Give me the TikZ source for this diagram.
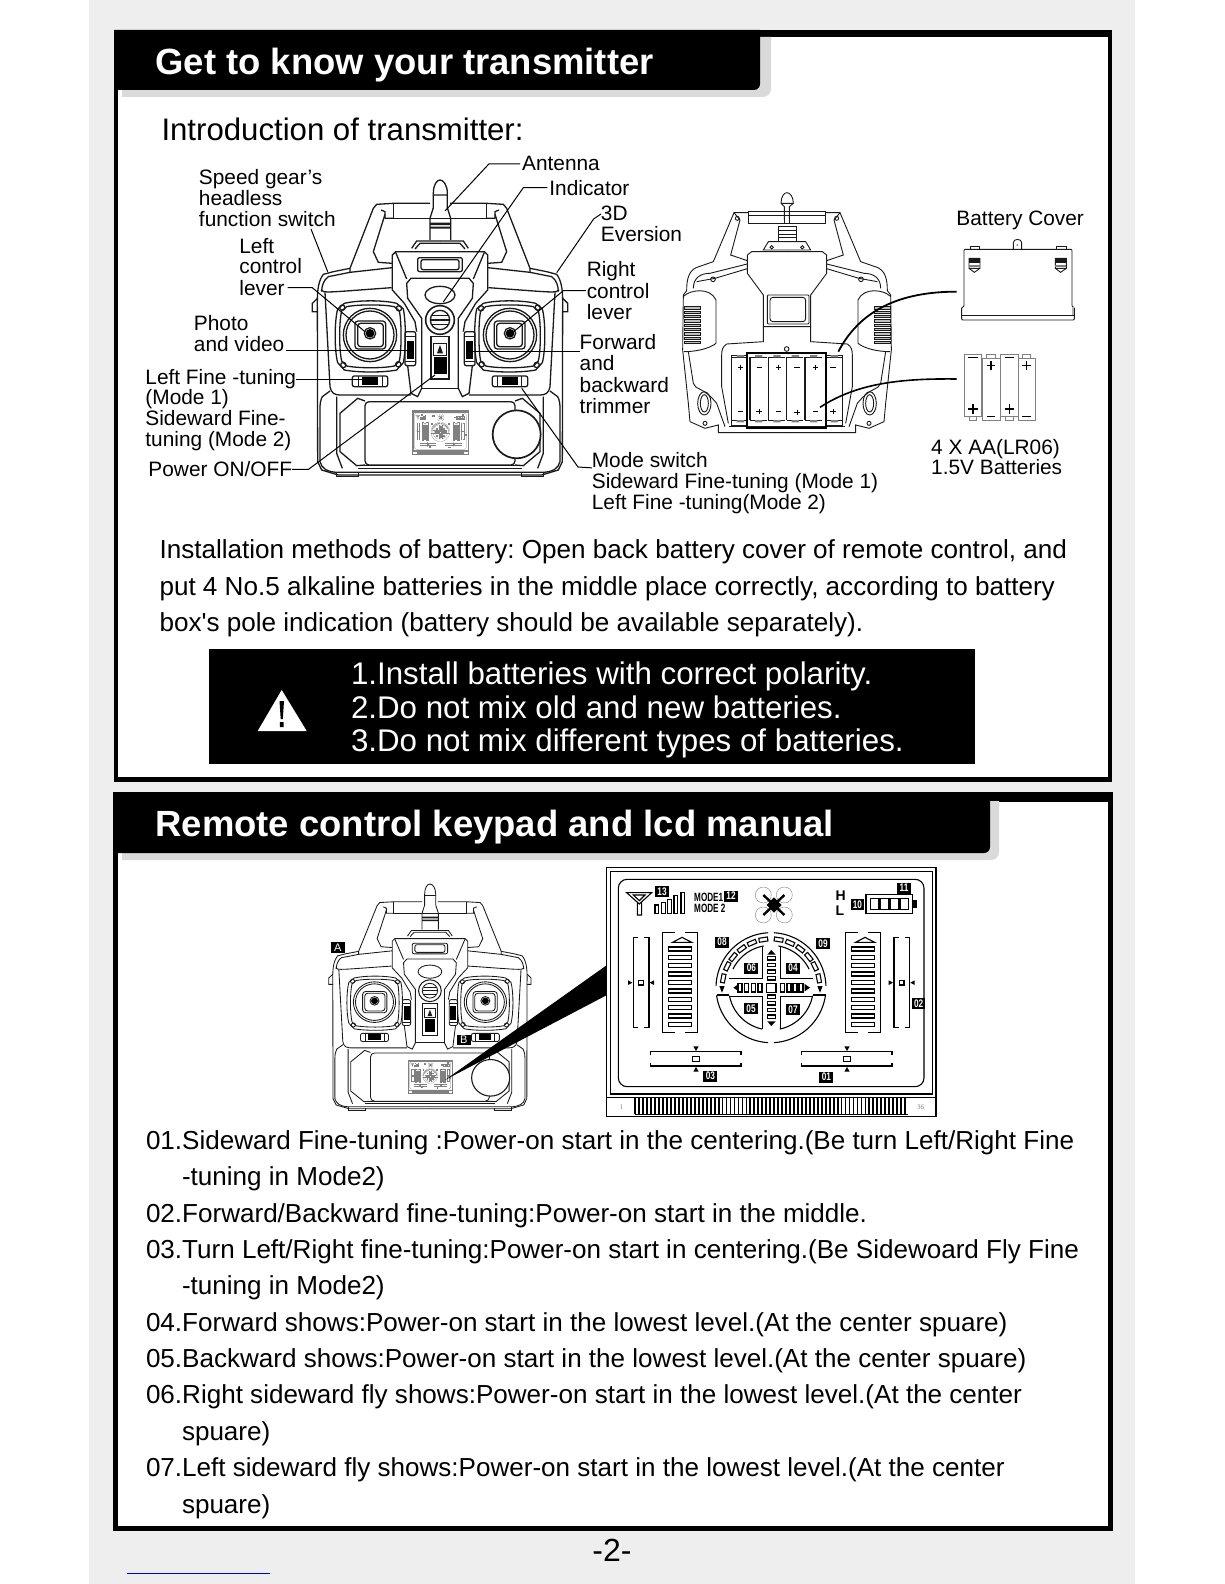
\documentclass[tikz,border=0pt]{standalone}
\usepackage{graphicx}
\usepackage{fontspec}
\setmainfont{Liberation Sans}
\newfontfamily\serifnum{Liberation Serif}
\frenchspacing
\definecolor{stripgray}{HTML}{EEEEEE}
\definecolor{shadowgray}{HTML}{DADADA}
\definecolor{inkgray}{HTML}{1A1A1A}
\definecolor{linkblue}{HTML}{0000D0}
\newcommand\fsz[1]{\fontsize{#1}{#1}\selectfont}
\tikzset{
  base/.style={inner sep=0pt,outer sep=0pt,anchor=base west,text=black},
  lbl/.style={base,font=\fsz{20.85}},
  body/.style={base,font=\fsz{26.05}},
  warn/.style={base,text=white,font=\fsz{31.3}},
  headtxt/.style={base,text=white,font=\bfseries\fsz{36.45}},
  leader/.style={draw=black,line width=1pt},
  tx/.style={draw=inkgray,line width=\txlw pt,fill=none},
  lcdtxt/.style={inner sep=0pt,outer sep=0pt,text=white,font=\bfseries\fsz{11}},
}
\def\txlw{1.3}
\newcommand\arcp[5]{plot[smooth,domain=#4:#5,samples=24] ({#1+#2*cos(\x)},{#3+#2*sin(\x)})}
\newcommand\lcdshapes[2]{%
 \def\la{#1}\def\lb{#2}%
 \draw[line width=\lb pt] (20,22) rectangle (1008,770);
 \draw[line width=\lb pt] (32,35) rectangle (998,702);
 \draw[line width=\la pt] (20,712) -- (1008,712);
 \foreach \i in {0,...,68} {\draw[line width=\lb*1.6 pt] ({106+\i*11.9},714) -- ({106+\i*11.9},762);}
 \draw[line width=\la pt] (105,763) -- (925,763);
 \draw[line width=\lb pt,rounded corners=\lb*8 pt] (55,58) rectangle (972,680);
 % antenna
 \draw[line width=\lb pt] (80,98) -- (155,98) -- (118,132) -- cycle (100,105) -- (135,105) -- (118,122) -- cycle (112,128) -- (112,165) -- (125,165) -- (125,128);
 \foreach \a/\b/\c in {165/175/135,185/197/127,203/215/118,222/233/107,243/253/98} {\draw[line width=\lb pt] (\a,\c) rectangle (\b,160);}
 % tags
 \foreach \a/\b in {165/78,372/92,892/68,752/118,345/230,648/235,433/308,558/308,432/430,558/432,935/415,310/632,658/635} {\fill (\a,\b) rectangle ++(41,33);}
 % batt
 \draw[line width=\lb pt] (798,103) rectangle (938,160);
 \foreach \a in {812,842,872,900} {\draw[line width=\lb pt] (\a,115) rectangle ++(25,33);}
 \fill (938,120) rectangle (952,145);
 % drone
 \foreach \a/\b in {490/105,553/105,490/165,553/165} {\draw[line width=\la*.8 pt,draw=gray] (\a,\b) circle[radius=24]; \draw[line width=\lb*2.2 pt] (522,135) -- (\a,\b);}
 \fill (500,135) -- (522,112) -- (545,135) -- (522,158) -- cycle;
 % side brackets
 \foreach \s/\t in {0/0,782/549} {\begin{scope}[shift={(\s,0)}]
  \draw[line width=\lb pt] (115,232) -- (100,232) -- (100,503) -- (115,503) (133,232) -- (147,232) -- (147,503) -- (133,503);
  \draw[line width=\lb pt] (116,361) rectangle (130,375);
  \fill (84,361) -- (84,375) -- (97,368) -- cycle (162,361) -- (162,375) -- (149,368) -- cycle;
 \end{scope}
 \begin{scope}[shift={(\t,0)}]
  \draw[line width=\lb pt] (225,218) -- (188,218) -- (188,517) -- (225,517) (255,218) -- (292,218) -- (292,517) -- (255,517);
  \draw[line width=\lb pt] (218,247) -- (246,232) -- (275,247) -- cycle;
  \foreach \y in {267,292,317,342,367,393,418,443,468,493} {\draw[line width=\lb pt] (205,\y-6) rectangle (275,\y+6);}
 \end{scope}}
 % centre dial
 \draw[line width=\lb pt] \arcp{513}{165}{383}{-178}{-93} ;
 \draw[line width=\lb pt] \arcp{513}{165}{383}{-87}{-2} ;
 \draw[line width=\lb pt] \arcp{513}{165}{383}{8}{87} ;
 \draw[line width=\lb pt] \arcp{513}{165}{383}{93}{172} ;
 \draw[line width=\lb pt] (350,405) -- (388,405) (678,405) -- (640,405);
 \draw[line width=\lb pt] \arcp{513}{127}{383}{-154}{-100} ;
 \draw[line width=\lb pt] \arcp{513}{127}{383}{-80}{-26} ;
 \draw[line width=\lb pt] \arcp{513}{127}{383}{11}{78} ;
 \draw[line width=\lb pt] \arcp{513}{127}{383}{102}{169} ;
 \draw[line width=\lb pt] (487,262) -- (487,355) -- (388,355) (541,262) -- (541,355) -- (640,355) (487,508) -- (487,410) -- (388,410) (541,508) -- (541,410) -- (640,410);
 \foreach \a in {99,113,127,141,154,169} {
  \draw[line width=\lb pt,rotate around={\a-90:({513+146*cos(\a)},{383-146*sin(\a)})}] ({513+146*cos(\a)-13},{383-146*sin(\a)-6}) rectangle ++(26,12);
  \draw[line width=\lb pt,rotate around={90-\a:({513-146*cos(\a)},{383-146*sin(\a)})}] ({513-146*cos(\a)-13},{383-146*sin(\a)-6}) rectangle ++(26,12);
 }
 \fill (358,378) -- (374,378) -- (366,398) -- cycle (652,378) -- (668,378) -- (660,398) -- cycle;
 \draw[line width=\lb pt] (500,370) rectangle (528,397);
 \foreach \a in {420,440,460,480,548,567,585,603} {\draw[line width=\lb pt] (\a-6,371) rectangle (\a+6,396);}
 \fill (416,372) -- (416,394) -- (400,383) -- cycle (614,372) -- (614,394) -- (630,383) -- cycle;
 \foreach \a in {295,315,335,355,410,430,450,470} {\draw[line width=\lb pt] (502,\a-5) rectangle (527,\a+5);}
 \fill (502,284) -- (527,284) -- (514,270) -- cycle (502,484) -- (527,484) -- (514,498) -- cycle;
 % bottom trims
 \foreach \s in {0,453} {\begin{scope}[shift={(\s,0)}]
  \draw[line width=\lb pt] (152,586) -- (152,575) -- (423,575) -- (423,586) (152,608) -- (152,618) -- (423,618) -- (423,608);
  \draw[line width=\lb pt] (278,590) rectangle (298,604);
  \fill (280,559) -- (296,559) -- (288,573) -- cycle (280,635) -- (296,635) -- (288,621) -- cycle;
 \end{scope}}
}
% front transmitter, left half, in 3x crop coordinates, axis at X=405
\newcommand\txhalf{%
 % handle
 \draw[tx] (375,85) -- (265,85) -- (215,88) -- (205,100) -- (135,280) -- (85,290) -- (55,298) .. controls (42,315) and (37,340) .. (37,378) -- (38,860) -- (50,885) -- (100,900) -- (405,900);
 \draw[tx] (265,85) -- (265,130) -- (375,130);
 \draw[tx] (265,130) -- (240,130) -- (240,110) -- (228,105);
 \draw[tx] (240,118) -- (205,230) -- (220,262) -- (262,265);
 \draw[tx] (135,280) -- (135,292) -- (262,278);
 \draw[tx] (135,292) -- (70,305) .. controls (55,315) and (50,335) .. (50,350);
 \draw[tx] (37,370) -- (22,385) -- (22,410) -- (38,410);
 % face contour
 \draw[tx] (48,345) .. controls (55,355) and (65,352) .. (260,338);
 \draw[tx] (60,352) -- (75,635) .. controls (78,655) and (90,660) .. (105,660) -- (318,660);
 % lower
 \draw[tx] (75,648) -- (52,665) .. controls (46,675) and (45,690) .. (45,700) -- (45,860) .. controls (50,880) and (65,890) .. (95,892) -- (405,892);
 \draw[tx] (95,665) -- (95,835) -- (112,880);
 \draw[tx] (180,678) -- (158,670) -- (105,715) -- (105,830) -- (155,872) -- (180,870);
 \draw[tx] (155,872) -- (405,872) (160,880) -- (405,880);
 \draw[tx] (95,892) -- (95,905) -- (160,905) -- (160,895);
 % central
 \draw[tx] (320,220) -- (335,198) -- (405,198) (330,222) -- (345,205) -- (405,205);
 \draw[tx] (405,230) -- (272,230) -- (262,240) -- (262,345) -- (298,385) -- (330,440) -- (335,470);
 \draw[tx] (272,232) -- (305,312);
 \draw[tx] (405,310) -- (318,310) -- (305,325) -- (308,370) -- (350,430) -- (350,640) -- (338,665) -- (318,655) -- (308,572);
 \draw[tx] (350,640) -- (405,640);
 % gimbal
 \draw[tx] (118,385) .. controls (160,375) and (235,375) .. (275,385) -- (295,402) .. controls (303,440) and (303,525) .. (295,563) -- (275,585) .. controls (235,593) and (160,593) .. (118,585) -- (98,563) .. controls (88,525) and (88,440) .. (98,402) -- cycle;
 \draw[tx] (125,395) .. controls (160,388) and (235,388) .. (268,395) -- (283,408) .. controls (290,440) and (290,525) .. (283,558) -- (268,573) .. controls (235,580) and (160,580) .. (125,573) -- (110,558) .. controls (102,525) and (102,440) .. (110,408) -- cycle;
 \draw[tx] (195,480) circle[radius=80] (195,480) circle[radius=72];
 \fill[white] (152,440) rectangle (240,520);
 \draw[tx,rounded corners=3pt] (150,438) rectangle (242,522);
 \draw[tx,rounded corners=3pt] (158,445) rectangle (235,515);
 \fill[black] (195,475) circle[radius=13];
 \draw[tx] (195,475) circle[radius=17];
 \foreach \a/\b in {112/398,282/400,115/570,280/568} {\draw[tx] (\a,\b) circle[radius=8];}
 % trims
 \draw[tx,rounded corners=2pt] (300,470) rectangle (332,572);
 \fill[black] (307,497) rectangle (328,552);
 \draw[tx] (300,485) -- (332,485) (300,560) -- (332,560);
 \draw[tx,rounded corners=2pt] (142,603) rectangle (248,635);
 \fill[black] (172,607) rectangle (218,630);
 \draw[tx] (160,603) -- (160,635) (232,603) -- (232,635);
}
\newcommand\txfront{%
 \draw[tx] (385,98) -- (385,55) .. controls (385,30) and (395,15) .. (405,15) .. controls (415,15) and (427,30) .. (427,55) -- (427,98) -- (437,130) -- (437,195) (385,98) -- (375,130) -- (375,195) (385,60) -- (427,60);
 \fill[inkgray] (375,143) rectangle (437,150) (375,155) rectangle (437,161);
 \draw[tx] (375,130) -- (437,130);
 \txhalf
 \begin{scope}[shift={(810,0)},xscale=-1]\txhalf\end{scope}
 \draw[tx,rounded corners=2pt] (338,248) rectangle (472,290) (348,254) rectangle (462,284);
 \draw[tx] (405,360) circle[x radius=45,y radius=26];
 \draw[tx,line width=\txlw*1.2 pt] (405,435) circle[radius=43];
 \draw[tx] (405,435) circle[radius=29];
 \draw[tx] (382,422) -- (428,422) (379,435) -- (431,435) (382,448) -- (428,448);
 \draw[tx] (378,485) rectangle (432,612);
 \draw[tx] (385,505) rectangle (425,542);
 \fill[inkgray] (405,510) -- (414,535) -- (396,535) -- cycle;
 \fill[black] (386,545) rectangle (426,597);
 \draw[tx,rounded corners=4pt] (180,680) rectangle (630,870);
 \fill[white] (322,708) rectangle (490,838);
 \draw[tx,draw=gray] (322,708) rectangle (490,838);
 \begin{scope}[shift={(318.6,704.2)},xscale=.17,yscale=.174,color=gray]\lcdshapes{.12}{.22}\end{scope}
 \fill[white] (635,778) circle[radius=72];
 \draw[tx,line width=\txlw*1.3 pt] (635,778) circle[radius=72];
}
\newcommand\backhalf{%
 \draw[tx] (265,128) -- (222,128) -- (160,275) -- (108,293) .. controls (85,305) and (80,330) .. (80,362) -- (70,375) -- (68,540) -- (85,700) -- (90,755) -- (135,775) -- (175,765) -- (175,788) -- (381,788);
 \draw[tx] (240,150) -- (212,255) -- (262,272);
 \draw[tx] (222,128) -- (240,150);
 \draw[tx] (232,145) circle[radius=6];
 \draw[tx] (100,355) .. controls (100,325) and (120,310) .. (150,310) -- (262,282);
 \draw[tx] (262,296) -- (165,325) -- (110,335);
 \draw[tx] (72,378) .. controls (90,360) and (150,350) .. (168,390) -- (168,520) .. controls (150,535) and (110,545) .. (72,545);
 \draw[tx] (85,545) -- (100,640) .. controls (105,660) and (130,650) .. (170,700) -- (195,770);
 \draw[tx] (381,245) -- (275,245) -- (262,255) -- (262,310) -- (310,375) -- (310,470) -- (381,470);
 \draw[tx] (310,470) -- (310,515) -- (200,522) .. controls (188,530) and (185,540) .. (185,555) -- (185,650) -- (205,760);
 \draw[tx] (381,240) -- (310,240) -- (325,215) -- (381,215);
 \draw[tx] (335,232) circle[radius=5];
 \draw[tx] (159,328) circle[radius=7];
 \draw[tx] (135,760) circle[radius=6];
 \draw[tx] (133,700) circle[x radius=20,y radius=35] (133,700) circle[x radius=12,y radius=26];
 \foreach \y in {410,423,436,449,462,475,488,501,514} {\draw[tx,fill=gray!50] (72,\y) rectangle (120,\y+7);}
 \draw[tx] (215,555) rectangle (262,765);
}
\begin{document}
\begin{tikzpicture}[x=1pt,y=-1pt]
\useasboundingbox (0,0) rectangle (1224,1584);
\fill[white] (0,0) rectangle (1224,1584);
\fill[stripgray] (89,0) rectangle (1135,1584);
% frames
\fill[black] (114,30) rectangle (1112,782);
\fill[white] (117.5,37) rectangle (1108,777);
\fill[black] (112.5,792) rectangle (1113,1531);
\fill[white] (117.7,801.5) rectangle (1108,1526);
\fill[shadowgray] (122,37) -- (771,37) [rounded corners=8pt] -- (771,97) [sharp corners] -- (122,97) -- cycle;
\fill[black] (114,30) -- (760,30) [rounded corners=6pt] -- (760,90) [sharp corners] -- (114,90) -- cycle;
\fill[shadowgray] (122,801) -- (999,801) [rounded corners=8pt] -- (999,860) [sharp corners] -- (122,860) -- cycle;
\fill[black] (113,792) -- (990,792) [rounded corners=6pt] -- (990,853) [sharp corners] -- (113,853) -- cycle;
\node[headtxt] (head1) at (155.5,74.5) {Get to know your transmitter};
\node[headtxt] (head2) at (155.5,836.5) {Remote control keypad and lcd manual};
\node[base,font=\fsz{31.17}] (intro) at (161.5,141) {Introduction of transmitter:};
% labels
\newcommand\lbl[4]{\node[lbl] (#1) at ({#2*1.01},{#3*1.01+7.3}) {#4};}
\lbl{sp1}{197}{175}{Speed gear’s}\lbl{sp2}{197}{196}{headless}\lbl{sp3}{197}{217}{function switch}
\lbl{lc1}{237}{244}{Left}\lbl{lc2}{237}{264}{control}\lbl{lc3}{237}{285}{lever}
\lbl{ph1}{192}{320}{Photo}\lbl{ph2}{192}{341}{and video}
\lbl{lf1}{144}{373}{Left Fine -tuning}\lbl{lf2}{144}{393}{(Mode 1)}\lbl{lf3}{144}{414}{Sideward Fine-}\lbl{lf4}{144}{435}{tuning (Mode 2)}
\lbl{pw}{147}{465}{Power ON/OFF}
\lbl{an}{517}{162}{Antenna}\lbl{in}{544}{186}{Indicator}\lbl{td1}{595}{211}{3D}\lbl{td2}{595}{232}{Eversion}
\lbl{rc1}{581}{267}{Right}\lbl{rc2}{581}{288}{control}\lbl{rc3}{581}{309}{lever}
\lbl{fw1}{574}{339}{Forward}\lbl{fw2}{574}{360}{and}\lbl{fw3}{574}{381}{backward}\lbl{fw4}{574}{402}{trimmer}
\lbl{ms1}{586}{456}{Mode switch}\lbl{ms2}{586}{476}{Sideward Fine-tuning (Mode 1)}\lbl{ms3}{586}{497}{Left Fine -tuning(Mode 2)}
\lbl{bc}{947}{216}{Battery Cover}\lbl{aa1}{922}{443}{4 X AA(LR06)}\lbl{aa2}{922}{463}{1.5V Batteries}
% front transmitter top
\begin{scope}[shift={(305,175)},scale=1/3]
 \txfront
\end{scope}
\coordinate (eAn) at (445,211); \coordinate (bAn) at (489,163);
\coordinate (eIn) at (443.3,302); \coordinate (bIn) at (523.3,188);
\coordinate (sTd) at (601,214); \coordinate (bTd) at (593.6,219); \coordinate (eTd) at (556.7,272.7);
\coordinate (sSp) at (311,229); \coordinate (eSp) at (327.7,271.7);
\coordinate (eLc) at (365,331.7); \coordinate (bLc) at (312.3,290);
\coordinate (eRc) at (511.7,333.3); \coordinate (bRc) at (563.3,292);
\coordinate (ePh) at (406.7,350);
\coordinate (eFw) at (466.7,351);
\coordinate (eLf) at (362.3,379);
\coordinate (ePw) at (435,375); \coordinate (bPw) at (308.3,467.7);
\coordinate (eMs) at (521.7,388.3); \coordinate (bMs) at (578,467);
\draw[leader] ([xshift=-2pt]an.west) -- (an.west -| bAn) -- (eAn);
\draw[leader] ([xshift=-2pt]in.west) -- (in.west -| bIn) -- (eIn);
\draw[leader] (sTd) -- (bTd) -- (eTd);
\draw[leader] (sSp) -- (eSp);
\draw[leader] ([xshift=3pt]lc3.east) -- (lc3.east -| bLc) -- (eLc);
\draw[leader] ([xshift=-1pt]rc2.west) -- (rc2.west -| bRc) -- (eRc);
\draw[leader] ([xshift=2pt]ph2.east |- ePh) -- (ePh);
\draw[leader] (eFw) -- (fw1.west |- eFw);
\draw[leader] (lf1.east |- eLf) -- (eLf);
\draw[leader] (pw.east) -- (pw.east -| bPw) -- (ePw);
\draw[leader] (ms1.base west) -- (bMs) -- (eMs);
% back transmitter
\begin{scope}[shift={(660,170)},scale=1/3]
 \def\txlw{.9}
 \draw[tx] (373,110) -- (363,100) .. controls (363,80) and (372,68) .. (381,68) .. controls (390,68) and (400,80) .. (400,100) -- (388,110) -- (388,150) (373,110) -- (373,150) (363,100) -- (400,100);
 \draw[tx] (355,170) rectangle (408,215);
 \draw[tx] (355,182) -- (408,182) (355,192) -- (408,192) (355,202) -- (408,202);
 \draw[tx] (265,125) rectangle (497,160);
 \draw[tx] (265,135) -- (497,135) (373,125) -- (373,160) (388,125) -- (388,160);
 \backhalf
 \begin{scope}[shift={(762,0)},xscale=-1]\backhalf\end{scope}
 \draw[tx,rounded corners=3pt] (330,382) rectangle (437,455);
 \draw[tx,rounded corners=1pt] (322,375) rectangle (447,462);
 \draw[tx] (380,537) circle[radius=7];
 \draw[tx] (208,770) -- (555,770);
 \foreach \x in {270,325,380,435,497} {\draw[tx,line width=1.1pt] (\x,562) -- (\x,750);}
 \foreach \x in {215,270,325,380,435,497} {\draw[tx] (\x,562) -- ++(50,0) (\x,750) -- ++(50,0); \fill[gray] (\x+15,555) rectangle ++(22,7) (\x+15,750) rectangle ++(22,7);}
 \draw[draw=black,line width=2pt] (262,550) rectangle (497,775);
 \foreach \x/\y in {242/592,355/592,467/592,297/725,411/727,519/725} {\draw[line width=.9pt] (\x-8,\y) -- (\x+8,\y) (\x,\y-8) -- (\x,\y+8);}
 \foreach \x/\y in {298/592,411/592,519/592,242/725,355/725,467/725} {\draw[line width=.9pt] (\x-8,\y) -- (\x+8,\y);}
 % cover
 \draw[tx,line width=.9pt,rounded corners=1pt] (905,450) -- (905,412) -- (912,410) -- (912,238) -- (1236,238) -- (1236,410) -- (1243,412) -- (1243,450) -- cycle;
 \draw[tx] (905,435) -- (1243,435);
 \fill[gray!60] (1236,412) rectangle (1243,435);
 \draw[tx] (930,238) -- (930,228) -- (958,228) -- (958,238) (1190,238) -- (1190,228) -- (1218,228) -- (1218,238);
 \draw[tx] (1060,238) -- (1060,218) .. controls (1060,205) and (1085,205) .. (1085,218) -- (1085,238);
 \fill[gray] (1072,225) circle[radius=3];
 \foreach \x in {927,1186} {
  \draw[tx] (\x,265) rectangle (\x+33,295) (\x,295) -- (\x+16,307) -- (\x+33,295);
  \fill[inkgray] (\x,268) rectangle (\x+33,280);
  \fill[gray] (\x,284) rectangle (\x+33,292);
 }
 % cells
 \foreach \x/\n in {913/0,1022/0} {\draw[tx,draw=gray] (\x,552) rectangle (\x+52,740); \draw[tx,draw=gray] (\x+15,740) rectangle (\x+37,752);
   \draw[line width=1.1pt] (\x+12,562) -- (\x+40,562) (\x+12,717) -- (\x+40,717) (\x+26,703) -- (\x+26,731);}
 \foreach \x/\n in {968/0,1075/0} {\draw[tx,draw=gray] (\x,565) rectangle (\x+52,752); \draw[tx,draw=gray] (\x+12,552) rectangle (\x+37,565);
   \draw[line width=1.1pt] (\x+12,587) -- (\x+38,587) (\x+25,573) -- (\x+25,601) (\x+12,740) -- (\x+38,740);}
 \coordinate (cvA) at (535,545); \coordinate (cvB) at (890,365);
 \coordinate (baA) at (480,712); \coordinate (baB) at (890,627);
 \draw[line width=1.8pt,line cap=butt] (cvA) .. controls (600,420) and (720,365) .. (cvB);
 \draw[line width=1.6pt] (baA) .. controls (590,640) and (720,625) .. (baB);
\end{scope}
% paragraph
\node[body,font=\fsz{26.08}] (p1) at (159.5,558.5) {Installation methods of battery: Open back battery cover of remote control, and};
\node[body,font=\fsz{26.08}] (p2) at (159.5,595) {put 4 No.5 alkaline batteries in the middle place correctly, according to battery};
\node[body,font=\fsz{26.08}] (p3) at (159.5,631) {box\textquotesingle s pole indication (battery should be available separately).};
% warning
\fill[black] (209.3,649) rectangle (975,764);
\fill[white] (281.7,690) -- (306.7,731) -- (257.7,731) -- cycle;
\fill[black] (279.5,701) -- (284,701) -- (282.8,719) -- (280.7,719) -- cycle (279.8,722) rectangle (283.7,727);
\node[warn] (w1) at (351,684) {1.Install batteries with correct polarity.};
\node[warn] (w2) at (351,718) {2.Do not mix old and new batteries.};
\node[warn] (w3) at (351,751) {3.Do not mix different types of batteries.};
% lower transmitter
\begin{scope}[shift={(323,880.2)},xscale=.264,yscale=.254]
 \def\txlw{.85}
 \txfront
\end{scope}
\coordinate (wedgeTip) at (445,1080);
\coordinate (wedgeTop) at (607,965);
\coordinate (wedgeBot) at (607,995);
\fill[black] (wedgeTip) -- (wedgeTop) -- (wedgeBot) -- cycle;
\fill[black] (330.7,941.7) rectangle (345,953);
\node[lcdtxt,font=\fsz{11}] (tagA) at (337.8,947.4) {A};
\fill[black] (457,1035) rectangle (470.7,1045);
\node[lcdtxt,font=\fsz{11}] (tagB) at (463.9,1040) {B};
% LCD big
\fill[white] (606.7,867.3) rectangle (936,1117);
\begin{scope}[shift={(600,860)},scale=1/3]
 \lcdshapes{.5}{1.1}
 \node[inner sep=0pt,font=\serifnum\fsz{7},text=gray] (n1) at (65,742) {1};
 \node[inner sep=0pt,font=\serifnum\fsz{7},text=gray] (n36) at (962,742) {36};
 \node[inner sep=0pt,text=black,anchor=west] (m1) at (282,111) {\scalebox{.68}[1]{\bfseries\fsz{12}MODE1}};
 \node[inner sep=0pt,text=black,anchor=west] (m2) at (282,146) {\scalebox{.68}[1]{\bfseries\fsz{12}MODE 2}};
 \node[inner sep=0pt,font=\bfseries\fsz{14},text=black] (hh) at (722,108) {H};
 \node[inner sep=0pt,font=\bfseries\fsz{14},text=black] (ll) at (720,152) {L};
 \foreach \x/\y/\t in {186/94/13,393/108/12,912/84/11,772/134/10,366/246/08,669/251/09,454/324/06,579/324/04,453/446/05,579/448/07,956/431/02,331/648/03,679/651/01} {
  \node[lcdtxt] (t\t) at (\x,\y) {\scalebox{.75}[1]{\t}};
 }
\end{scope}
% list
\foreach \n/\x/\y/\t in {
 a/146/0/{01.Sideward Fine-tuning :Power-on start in the centering.(Be turn Left/Right Fine},
 b/182/1/{-tuning in Mode2)},
 c/146/2/{02.Forward/Backward fine-tuning:Power-on start in the middle.},
 d/146/3/{03.Turn Left/Right fine-tuning:Power-on start in centering.(Be Sidewoard Fly Fine},
 e/182/4/{-tuning in Mode2)},
 f/146/5/{04.Forward shows:Power-on start in the lowest level.(At the center spuare)},
 g/146/6/{05.Backward shows:Power-on start in the lowest level.(At the center spuare)},
 h/146/7/{06.Right sideward fly shows:Power-on start in the lowest level.(At the center},
 i/182/8/{spuare)},
 j/146/9/{07.Left sideward fly shows:Power-on start in the lowest level.(At the center},
 k/182/10/{spuare)}} {
 \node[body] (li\n) at (\x,{1149.4+36.36*\y}) {\t};
}
\node[inner sep=0pt,font=\fsz{32}] (pg) at (612,1550) {-2-};
\draw[draw=linkblue,line width=1.3pt] (127,1573.5) -- (270,1573.5);
\end{tikzpicture}
\end{document}
